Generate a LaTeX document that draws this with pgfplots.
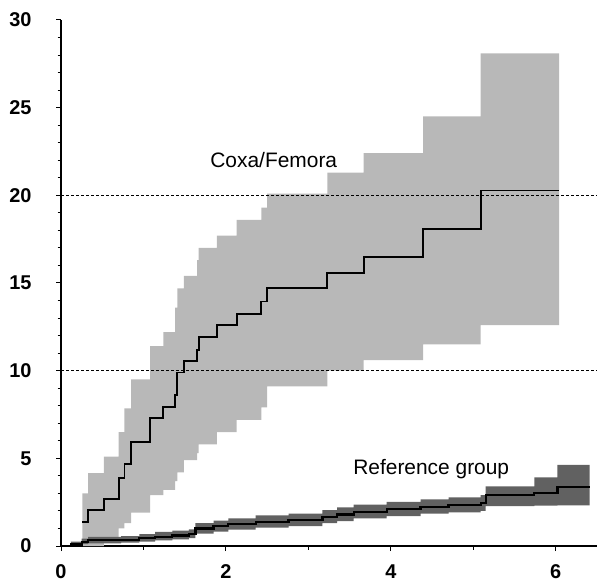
\documentclass[border=0pt]{standalone}
\usepackage{pgfplots}
\pgfplotsset{compat=1.18}
\usepgfplotslibrary{fillbetween}
\usepackage{pgfplotstable}
\usepackage{fontspec}
\setmainfont{Liberation Sans}

\pgfplotstableread{
x y lo hi
0.26 1.35 0.0 3.0
0.33 2.05 0.0 4.15
0.52 2.68 0.4 5.1
0.70 3.90 1.0 6.5
0.77 4.66 1.3 7.85
0.85 5.95 1.9 9.5
1.08 7.28 2.9 11.4
1.24 7.95 3.2 12.2
1.385 8.60 3.7 13.6
1.41 9.90 4.2 14.7
1.49 10.55 4.9 15.4
1.65 11.20 5.3 16.3
1.67 11.94 5.8 17.0
1.89 12.60 6.5 17.7
2.13 13.25 7.2 18.6
2.43 13.94 7.9 19.3
2.50 14.72 9.1 20.1
3.23 15.55 10.0 21.3
3.67 16.50 10.6 22.4
4.39 18.07 11.5 24.5
5.09 20.27 12.6 28.1
6.04 20.27 12.6 28.1
}\coxa

\pgfplotstableread{
x y lo hi
0.00 0.00 0.00 0.05
0.12 0.12 0.02 0.25
0.25 0.25 0.10 0.42
0.33 0.33 0.15 0.52
0.73 0.36 0.19 0.56
0.95 0.45 0.25 0.68
1.14 0.53 0.32 0.80
1.35 0.60 0.38 0.88
1.55 0.68 0.45 0.95
1.63 1.00 0.70 1.30
1.85 1.12 0.82 1.45
2.03 1.25 0.93 1.58
2.36 1.39 1.05 1.74
2.76 1.48 1.13 1.85
3.17 1.67 1.30 2.05
3.35 1.80 1.42 2.20
3.55 1.96 1.58 2.36
3.95 2.10 1.70 2.52
4.36 2.24 1.84 2.66
4.70 2.33 1.92 2.78
5.09 2.43 2.00 2.90
5.15 2.91 2.28 3.40
5.74 3.04 2.30 3.92
6.02 3.38 2.32 4.62
6.41 3.38 2.32 4.62
}\refgrp

\begin{document}
\begin{tikzpicture}
\begin{axis}[
  at={(0,0)}, anchor=south west,
  scale only axis,
  width=536bp, height=526bp,
  xmin=0, xmax=6.5, ymin=0, ymax=30,
  axis x line*=bottom, axis y line*=left,
  axis line style={line width=1.2bp, black},
  xtick={0,2,4,6}, minor xtick={1,3,5},
  ytick={0,5,...,30}, minor ytick={1,2,3,4,6,7,8,9,11,12,13,14,16,17,18,19,21,22,23,24,26,27,28,29},
  tick align=outside,
  major tick length=5bp, minor tick length=3.5bp,
  every tick/.style={black, line width=1bp},
  /pgf/number format/assume math mode=true,
  ticklabel style={font=\fontsize{20}{24}\selectfont\bfseries},
  xticklabel style={anchor=center, yshift=-21bp},
  yticklabel style={anchor=east, xshift=-21bp},
  clip=false,
]
% Coxa/Femora confidence band
\addplot[name path=cU, const plot, draw=none, forget plot] table[x=x, y=hi] {\coxa};
\addplot[name path=cL, const plot, draw=none, forget plot] table[x=x, y=lo] {\coxa};
\addplot[black!28, draw=none] fill between[of=cU and cL];
% Reference group band
\addplot[name path=rU, const plot, draw=none, forget plot] table[x=x, y=hi] {\refgrp};
\addplot[name path=rL, const plot, draw=none, forget plot] table[x=x, y=lo] {\refgrp};
\addplot[black!62, draw=none] fill between[of=rU and rL];
% dashed reference lines
\addplot[black, line width=0.8bp, dash pattern=on 3bp off 2bp] coordinates {(0,10) (6.5,10)};
\addplot[black, line width=0.8bp, dash pattern=on 3bp off 2bp] coordinates {(0,20) (6.5,20)};
% Coxa/Femora estimate
\addplot[black, line width=1.8bp, const plot] coordinates {(0,0) (0.26,0.3)};
\addplot[black, line width=1.8bp, const plot] table[x=x, y=y] {\coxa};
% Reference group estimate
\addplot[black, line width=2.2bp, const plot] table[x=x, y=y] {\refgrp};
\node[anchor=base, font=\fontsize{21}{25}\selectfont] at (axis cs:2.58,21.56) {Coxa/Femora};
\node[anchor=base, font=\fontsize{21}{25}\selectfont] at (axis cs:4.49,4.05) {Reference group};
\end{axis}
\pgfresetboundingbox
\path (-61bp,-40bp) rectangle (547bp,546bp);
\end{tikzpicture}
\end{document}
